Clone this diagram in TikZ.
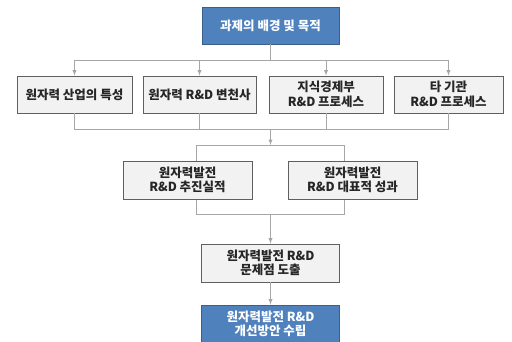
\documentclass[tikz,border=0pt]{standalone}
\usepackage{fontspec}
\setmainfont{Noto Sans CJK KR}
\usetikzlibrary{arrows}
\usepackage{xcolor}
\definecolor{boxblue}{HTML}{4F81BD}
\definecolor{blueline}{HTML}{3A5F8B}
\definecolor{boxgray}{HTML}{F2F2F2}
\definecolor{grayline}{HTML}{5F5F5F}
\definecolor{linkgray}{HTML}{A6A6A6}
\definecolor{txtdark}{HTML}{262626}

\begin{document}
\begin{tikzpicture}[x=1pt,y=-1pt,
		bluebox/.style={draw=blueline,fill=boxblue,line width=0.8pt,minimum height=37pt,
			text=white,font=\fontsize{12.5}{14.5}\selectfont\bfseries,align=center,inner sep=0pt},
		graybox/.style={draw=grayline,fill=boxgray,line width=0.8pt,minimum height=37pt,
			text=txtdark,font=\fontsize{12.5}{14.5}\selectfont\bfseries,align=center,inner sep=0pt},
		link/.style={draw=linkgray,line width=0.9pt},
		arr/.style={link,-latex}]
		\useasboundingbox (0,0) rectangle (512,341);
		\clip (0,0) rectangle (512,341);
		% top
		\node[bluebox,minimum width=137pt] (goal) at (270.5,25.5) {과제의 배경 및 목적};
		% second row
		\node[graybox,minimum width=115pt] (ind) at (74.5,94.5) {원자력 산업의 특성};
		\node[graybox,minimum width=113pt] (hist) at (199.5,94.5) {원자력 R\&D 변천사};
		\node[graybox,minimum width=114pt] (mke) at (326,94.5) {지식경제부\\R\&D 프로세스};
		\node[graybox,minimum width=109pt] (oth) at (448.5,94.5) {타 기관\\R\&D 프로세스};
		\coordinate (j1) at (270.5,60);
		\draw[link] (goal.south) -- (j1);
		\draw[link] (ind |- j1) -- (oth |- j1);
		\foreach \n in {ind,hist,mke,oth}
			\draw[arr] (\n |- j1) -- (\n.north);
		\coordinate (j2) at (270.5,129);
		\draw[link] (ind.south) -- (ind |- j2) -- (oth |- j2) -- (oth.south);
		\draw[link] (hist.south) -- (hist |- j2);
		\draw[link] (mke.south) -- (mke |- j2);
		% bracket round third row
		\coordinate (k1) at (196,145);
		\coordinate (k2) at (344,214);
		\coordinate (k3) at (270.5,145);
		\coordinate (k4) at (270.5,214);
		\draw[arr] (j2) -- (k3);
		\draw[link] (k1) rectangle (k2);
		% third row
		\node[graybox,minimum width=129pt,minimum height=38pt] (rec) at (187.5,180) {원자력발전\\R\&D 추진실적};
		\node[graybox,minimum width=129pt,minimum height=38pt] (res) at (352.5,180) {원자력발전\\R\&D 대표적 성과};
		% bottom
		\node[graybox,minimum width=138pt,minimum height=38pt] (prob) at (270.5,263) {원자력발전 R\&D\\문제점 도출};
		\node[bluebox,minimum width=138pt,minimum height=38pt] (plan) at (270.5,324) {원자력발전 R\&D\\개선방안 수립};
		\draw[arr] (k4) -- (prob.north);
		\draw[arr] (prob.south) -- (plan.north);
		\end{tikzpicture}
\end{document}
